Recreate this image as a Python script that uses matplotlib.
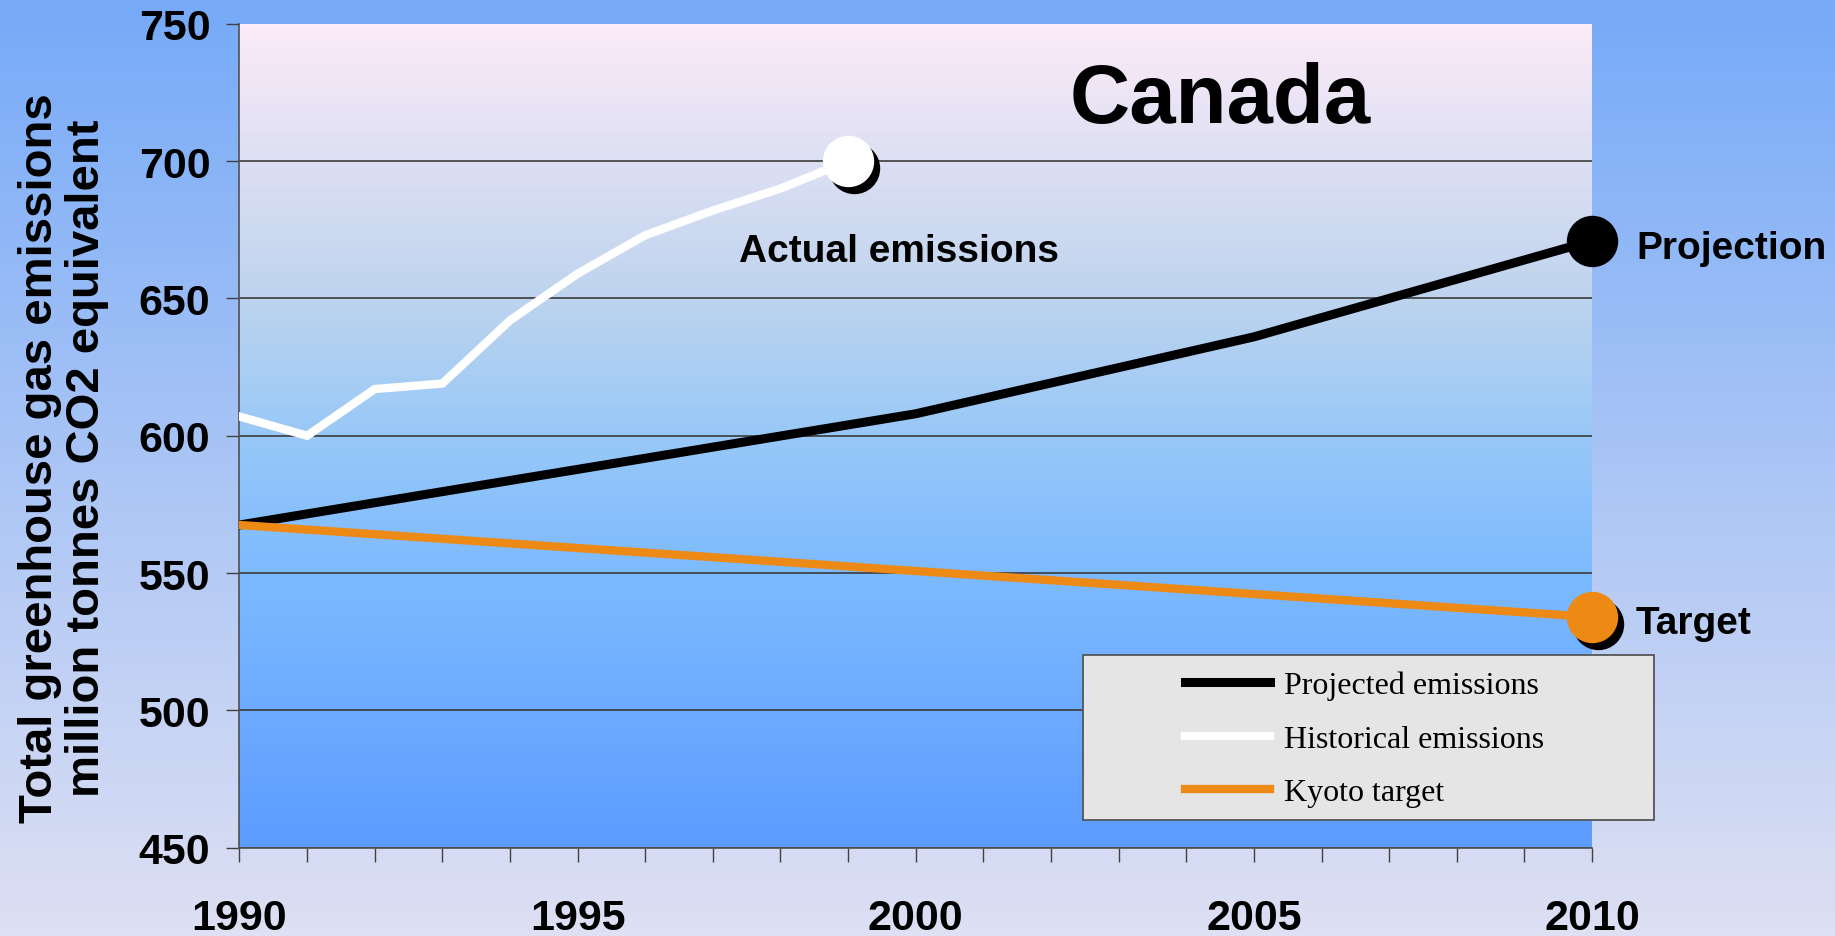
import matplotlib
matplotlib.use("Agg")
import matplotlib.pyplot as plt
import matplotlib.transforms as mtransforms
from matplotlib.patches import Rectangle
import numpy as np

plt.rcParams['font.family'] = ['Liberation Sans', 'DejaVu Sans']

# data (Mt CO2 equivalent)
hist_years = [1990, 1991, 1992, 1993, 1994, 1995, 1996, 1997, 1998, 1999]
hist_vals = [607, 600, 617, 619, 642, 659, 673, 682, 690, 700]
proj_years = [1990, 2000, 2005, 2010]
proj_vals = [567.5, 608, 636, 671]
kyoto_years = [1990, 2010]
kyoto_vals = [567.5, 534]

y_ticks = [450, 500, 550, 600, 650, 700, 750]
x_label_years = [1990, 1995, 2000, 2005, 2010]
all_years = list(range(1990, 2011))
legend_labels = ['Projected emissions', 'Historical emissions', 'Kyoto target']

fig = plt.figure(figsize=(18.35, 9.37), dpi=100)

# figure background gradient
bg = fig.add_axes([0, 0, 1, 1], zorder=-10)
t = np.linspace(0, 1, 256)
top = np.array([118, 170, 248]) / 255
bot = np.array([222, 224, 243]) / 255
bg_img = (top[None, :] * (1 - t[:, None]) + bot[None, :] * t[:, None])[:, None, :]
bg.imshow(bg_img, aspect='auto', extent=[0, 1, 0, 1])
bg.set_xlim(0, 1)
bg.set_ylim(0, 1)
bg.axis('off')

ax = fig.add_axes([0.1305, 0.0942, 0.7371, 0.8794])
ax.patch.set_visible(False)

# plot area gradient, top -> bottom
stops = [0, 0.33, 0.5, 0.67, 1]
cols = np.array([[252, 235, 248], [190, 212, 238], [152, 200, 248],
                 [124, 186, 255], [92, 156, 255]]) / 255
grad = np.stack([np.interp(t, stops, cols[:, k]) for k in range(3)], axis=1)[:, None, :]
ax.imshow(grad, aspect='auto', extent=[1990, 2010, 450, 750], zorder=0)

l_proj, = ax.plot(proj_years, proj_vals, color='black', lw=6.5, zorder=3,
                  solid_joinstyle='miter')
l_hist, = ax.plot(hist_years, hist_vals, color='white', lw=6, zorder=3,
                  solid_joinstyle='miter')
l_kyoto, = ax.plot(kyoto_years, kyoto_vals, color='#ED8A15', lw=6, zorder=3)

# end markers, white and orange ones get a black drop shadow
shadow = mtransforms.offset_copy(ax.transData, fig=fig, x=6, y=-7, units='dots')
for yrs, vals, c in [(hist_years, hist_vals, 'white'),
                     (proj_years, proj_vals, 'black'),
                     (kyoto_years, kyoto_vals, '#ED8A15')]:
    if c != 'black':
        ax.plot(yrs[-1], vals[-1], 'o', ms=37, color='black', mec='none',
                transform=shadow, clip_on=False, zorder=4)
    ax.plot(yrs[-1], vals[-1], 'o', ms=37, color=c, mec='none',
            clip_on=False, zorder=5)

ax.text(1999.75, 663.5, 'Actual emissions', ha='center', va='baseline',
        fontsize=28, fontweight='bold', zorder=6)
ax.text(2010.65, 664.7, 'Projection', ha='left', va='baseline',
        fontsize=28, fontweight='bold', clip_on=False, zorder=6)
ax.text(2010.65, 528.1, 'Target', ha='left', va='baseline',
        fontsize=28, fontweight='bold', clip_on=False, zorder=6)
ax.text(0.725, 0.881, 'Canada', transform=ax.transAxes, ha='center',
        va='baseline', fontsize=60, fontweight='bold', zorder=6)

ax.set_xlim(1990, 2010)
ax.set_ylim(450, 750)
ax.set_yticks(y_ticks)
ax.set_xticks(x_label_years)
ax.set_xticks(all_years, minor=True)
ax.yaxis.grid(True, color='#3a3a3a', lw=1.2)
ax.get_ygridlines()[-1].set_visible(False)
for gl in ax.get_ygridlines():
    gl.set_zorder(1)

ax.tick_params(axis='x', which='both', direction='out', length=10, width=1,
               color='#404040', pad=26, labelsize=31)
ax.tick_params(axis='y', direction='out', length=9.4, width=1,
               color='#404040', pad=11.5, labelsize=31)
for lab in ax.get_xticklabels() + ax.get_yticklabels():
    lab.set_fontweight('bold')

for s in ['top', 'right']:
    ax.spines[s].set_visible(False)
for s in ['left', 'bottom']:
    ax.spines[s].set_color('#505050')
    ax.spines[s].set_linewidth(1.2)

fig.text(0.0346, 0.511, 'Total greenhouse gas emissions\nmillion tonnes CO2 equivalent',
         rotation=90, ha='center', va='center', multialignment='center',
         fontsize=34, fontweight='bold', linespacing=1.1)

# legend with a box that is wider than its content
box = Rectangle((0.5902, 0.1238), 0.3112, 0.1761, transform=fig.transFigure,
                fc='#E5E5E5', ec='#555555', lw=1.3, clip_on=False, zorder=7)
ax.add_patch(box)
leg = ax.legend([l_proj, l_hist, l_kyoto], legend_labels, loc='center',
                bbox_to_anchor=(0.7436, 0.2102), bbox_transform=fig.transFigure,
                frameon=False, prop={'family': 'Liberation Serif', 'size': 23},
                handlelength=2.66, handletextpad=0.44, labelspacing=0.76,
                borderpad=0)
leg.set_zorder(8)

fig.savefig('out.png', dpi=100)
